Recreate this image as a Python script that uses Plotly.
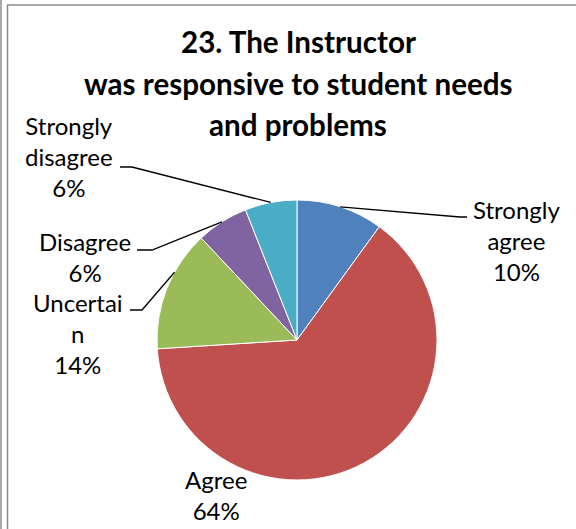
import plotly.graph_objects as go
import math

# ---- data ----
categories = ["Strongly agree", "Agree", "Uncertain", "Disagree", "Strongly disagree"]
values = [10, 64, 14, 6, 6]
label_texts = ["Strongly<br>agree<br>10%", "Agree<br>64%", "Uncertai<br>n<br>14%",
               "Disagree<br>6%", "Strongly<br>disagree<br>6%"]
colors = ["#4F81BD", "#C0504D", "#9BBB59", "#8064A2", "#4BACC6"]
title_lines = ["23. The Instructor", "was responsive to student needs", "and problems"]

# ---- layout geometry (pixels) ----
W, H = 576, 529
CX, CY, R = 297, 340, 140
def px(x): return x / W
def py(y): return 1 - y / H

# label placement: (center x, block middle y)
label_pos = [(516, 240), (216, 495), (78, 333), (85, 257), (69, 157)]
# leader lines: (label end, elbow, fraction within slice) ; None = no leader
leaders = [((467, 217), (460, 217), 0.5), None, ((130, 310), (142, 310), 0.646),
           ((137, 250), (152, 250), 0.5), ((120, 167), (132, 167), 0.5)]

fig = go.Figure(go.Pie(
    labels=categories, values=values, sort=False, direction="clockwise", rotation=0,
    marker=dict(colors=colors, line=dict(color="white", width=1)),
    textinfo="none", hoverinfo="label+percent", showlegend=False,
    domain=dict(x=[px(CX - R), px(CX + R)], y=[py(CY + R), py(CY - R)]),
))

total = sum(values)
cum = 0
shapes = []
annotations = []
for i, v in enumerate(values):
    start = cum / total
    cum += v
    end = cum / total
    ld = leaders[i]
    if ld is not None:
        (lx, ly), (ex, ey), f = ld
        frac = start + (end - start) * f
        ang = 2 * math.pi * frac
        ax, ay = CX + R * math.sin(ang), CY - R * math.cos(ang)
        path = f"M {px(lx)},{py(ly)} L {px(ex)},{py(ey)} L {px(ax)},{py(ay)}"
        shapes.append(dict(type="path", xref="paper", yref="paper", path=path,
                           line=dict(color="black", width=1.3)))
    x, y = label_pos[i]
    annotations.append(dict(text=label_texts[i], x=px(x), y=py(y), xref="paper", yref="paper",
                            xanchor="center", yanchor="middle", showarrow=False,
                            font=dict(family="Lato", size=24, color="black")))

# title lines (baselines 53, 95, 136)
TS = 29.6
for t, b in zip(title_lines, [53, 95, 136]):
    annotations.append(dict(text=f"<b>{t}</b>", x=px(298), y=py(b - 0.39 * TS), xref="paper", yref="paper",
                            xanchor="center", yanchor="middle", showarrow=False,
                            font=dict(family="Lato", size=TS, color="black")))

# frame lines
frame = "#8c8c8c"
shapes += [
    dict(type="line", xref="paper", yref="paper", x0=px(1), x1=px(1), y0=0, y1=1, line=dict(color=frame, width=1.5)),
    dict(type="line", xref="paper", yref="paper", x0=px(7.5), x1=px(7.5), y0=0, y1=py(5), line=dict(color=frame, width=1.5)),
    dict(type="line", xref="paper", yref="paper", x0=px(7), x1=1, y0=py(5), y1=py(5), line=dict(color=frame, width=1.5)),
]

fig.update_layout(width=W, height=H, margin=dict(l=0, r=0, t=0, b=0),
                  paper_bgcolor="white", plot_bgcolor="white",
                  shapes=shapes, annotations=annotations)
fig.write_html("out.html", config={"displayModeBar": False},
               post_script="document.body.style.margin='0';document.documentElement.style.overflow='hidden';")
